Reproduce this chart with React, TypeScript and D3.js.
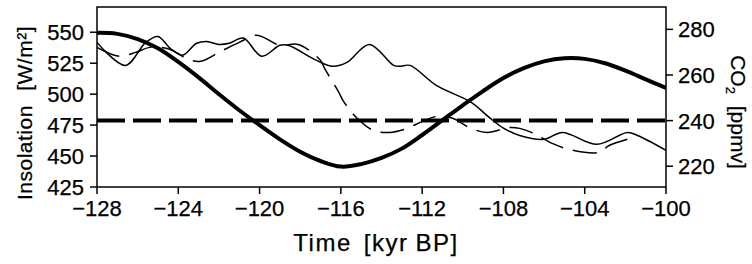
import React from "react";
import * as d3 from "d3";

// ---- data ----
const insolationYears = [-128, -127, -126, -125, -124, -123, -122, -121, -120, -119, -118, -117, -116, -115, -114, -113, -112, -111, -110, -109, -108, -107, -106, -105, -104, -103, -102, -101, -100];
const insolationValues = [549.5, 548.7, 544.5, 537, 526, 513.5, 500, 487, 475, 463.5, 453.5, 446, 441.5, 443.5, 448.5, 456, 467, 479, 491, 502.5, 513, 521, 526.5, 529, 528.5, 525, 519, 512, 505];

const co2SolidYears = [-128.0, -126.6, -125.6, -125.0, -124.4, -123.8, -123.1, -122.6, -122.0, -121.5, -120.8, -119.9, -119.0, -118.6, -117.2, -116.4, -115.7, -114.6, -113.4, -113.1, -112.6, -111.3, -109.6, -108.7, -108.0, -107.2, -106.0, -105.1, -103.4, -101.9, -101.4, -100.0];
const co2SolidValues = [274.3, 264.2, 274.3, 276.9, 271.7, 268.7, 273.9, 274.7, 273.4, 273.9, 276.2, 268.2, 273.0, 273.0, 266.4, 263.8, 265.5, 273.4, 264.2, 263.8, 264.2, 255.4, 248.1, 241.4, 236.7, 233.5, 231.8, 234.8, 229.6, 234.8, 233.5, 227.0];

const co2DashedYears = [-128.0, -126.9, -126.1, -125.4, -124.4, -123.5, -122.9, -121.9, -121.0, -120.2, -119.8, -119.0, -118.1, -117.0, -116.8, -116.1, -115.9, -115.2, -114.4, -113.6, -112.9, -111.3, -110.5, -109.6, -108.8, -107.7, -107.2, -106.5, -105.6, -104.6, -103.3, -102.8, -101.6];
const co2DashedValues = [272.1, 268.2, 269.9, 272.1, 271.2, 266.8, 266.0, 270.4, 274.3, 277.4, 276.5, 273.0, 273.4, 266.4, 262.9, 252.4, 248.9, 241.0, 235.7, 234.8, 236.1, 241.8, 241.0, 236.6, 234.8, 237.0, 236.6, 234.4, 230.0, 227.0, 226.1, 229.1, 232.6];

const co2Threshold = 240;

const xTickValues = [-128, -124, -120, -116, -112, -108, -104, -100];
const leftTickValues = [425, 450, 475, 500, 525, 550];
const rightTickValues = [220, 240, 260, 280];

const leftTitle = "Insolation [W/m²]";

export default function App() {
  const W = 752, H = 264;
  const left = 97, right = 666, top = 7, bottom = 187;
  const font = "'Liberation Sans', Arial, sans-serif";
  const txt = { fontFamily: font, fill: "#000", stroke: "#000", strokeWidth: 0.25 } as const;

  const x = d3.scaleLinear().domain([-128, -100]).range([left, right]);
  const yL = d3.scaleLinear().domain([425, 570.4]).range([bottom, top]);
  const yR = d3.scaleLinear().domain([210.9, 289.8]).range([bottom, top]);

  const insData: [number, number][] = insolationYears.map((t, i) => [t, insolationValues[i]]);
  const solidData: [number, number][] = co2SolidYears.map((t, i) => [t, co2SolidValues[i]]);
  const dashedData: [number, number][] = co2DashedYears.map((t, i) => [t, co2DashedValues[i]]);

  const lineL = d3.line<[number, number]>().x(d => x(d[0])).y(d => yL(d[1])).curve(d3.curveCatmullRom.alpha(0.5));
  const lineR = d3.line<[number, number]>().x(d => x(d[0])).y(d => yR(d[1])).curve(d3.curveCatmullRom.alpha(0.5));

  const fmt = (v: number) => (v < 0 ? "\u2212" + Math.abs(v) : String(v));

  return (
    <svg width={W} height={H} style={{ position: "absolute", left: 0, top: 0, background: "#fff" }}>
      <defs>
        <clipPath id="plotclip">
          <rect x={left} y={top} width={right - left} height={bottom - top} />
        </clipPath>
      </defs>
      <g clipPath="url(#plotclip)" fill="none" stroke="#000">
        <path d={lineR(solidData) || ""} strokeWidth={1.5} />
        <path d={lineR(dashedData) || ""} strokeWidth={1.5} strokeDasharray="24,10" />
        <line x1={x(-128)} x2={x(-100)} y1={yR(co2Threshold)} y2={yR(co2Threshold)} strokeWidth={4} strokeDasharray="28,8" />
        <path d={lineL(insData) || ""} strokeWidth={4} />
      </g>
      <rect x={left} y={top} width={right - left} height={bottom - top} fill="none" stroke="#000" strokeWidth={1.5} />

      {leftTickValues.map(v => (
        <g key={"l" + v}>
          <line x1={left - 7} x2={left} y1={yL(v)} y2={yL(v)} stroke="#000" strokeWidth={1.5} />
          <text x={left - 13} y={yL(v)} dy="0.36em" textAnchor="end" fontSize={22} {...txt}>{v}</text>
        </g>
      ))}
      {rightTickValues.map(v => (
        <g key={"r" + v}>
          <line x1={right} x2={right + 7} y1={yR(v)} y2={yR(v)} stroke="#000" strokeWidth={1.5} />
          <text x={right + 12} y={yR(v)} dy="0.36em" textAnchor="start" fontSize={22} {...txt}>{v}</text>
        </g>
      ))}
      {xTickValues.map(v => (
        <g key={"x" + v}>
          <line x1={x(v)} x2={x(v)} y1={bottom} y2={bottom + 7} stroke="#000" strokeWidth={1.5} />
          <text x={x(v)} y={216} textAnchor="middle" fontSize={22} {...txt}>{fmt(v)}</text>
        </g>
      ))}

      <text x={376} y={251} textAnchor="middle" fontSize={24} letterSpacing={1.5} {...txt}>
        Time<tspan dx={12}>[kyr</tspan><tspan dx={7}>BP]</tspan>
      </text>
      <text transform="translate(32,113) rotate(-90)" textAnchor="middle" fontSize={21} letterSpacing={0.5} wordSpacing={8} {...txt}>{leftTitle}</text>
      <text transform="translate(731,112) rotate(90)" textAnchor="middle" fontSize={21} wordSpacing={6} {...txt}>
        CO<tspan fontSize={13} dy={5}>2</tspan><tspan dy={-5}> [ppmv]</tspan>
      </text>
    </svg>
  );
}
